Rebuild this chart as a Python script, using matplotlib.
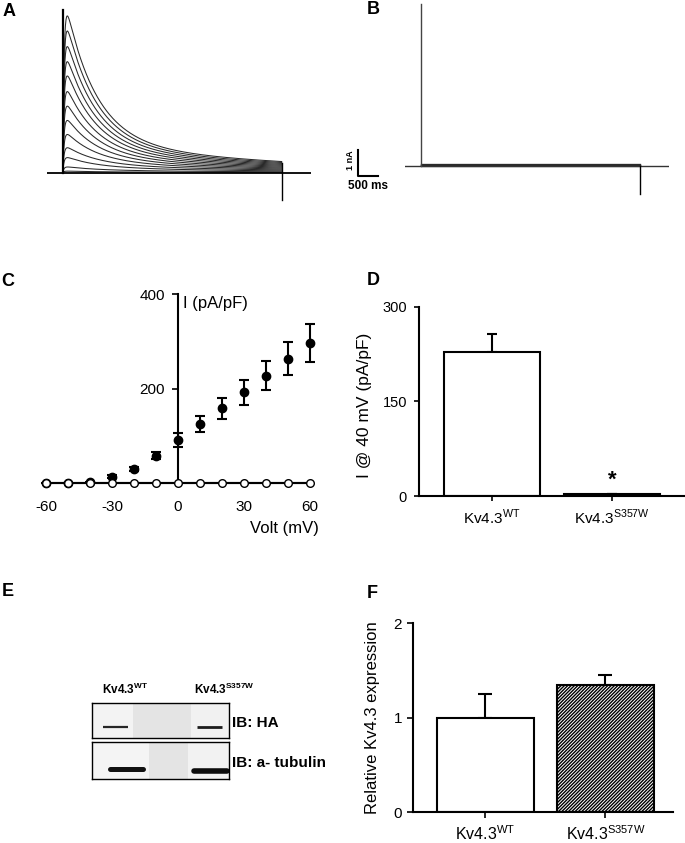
import numpy as np
import matplotlib.pyplot as plt

plt.rcParams['font.family'] = ['Liberation Sans', 'DejaVu Sans']
plt.rcParams['mathtext.fontset'] = 'custom'
plt.rcParams['mathtext.rm'] = 'Liberation Sans'
plt.rcParams['mathtext.bf'] = 'Liberation Sans:bold'
plt.rcParams['hatch.linewidth'] = 1.0
plt.rcParams['hatch.color'] = 'black'
plt.rcParams['axes.linewidth'] = 1.5
plt.rcParams['axes.unicode_minus'] = False

# --- A / B: current traces, one per voltage step -------------------------
step_mv = [-60, -50, -40, -30, -20, -10, 0, 10, 20, 30, 40, 50, 60]
wt_peak_na = [0.06, 0.22, 0.58, 0.96, 1.47, 2.01, 2.56, 3.12, 3.72, 4.27, 4.85, 5.45, 6.03]
wt_end_na = [0.01, 0.03, 0.06, 0.09, 0.12, 0.15, 0.18, 0.21, 0.24, 0.27, 0.30, 0.33, 0.36]
mut_level_na = [0.0, 0.0, 0.01, 0.01, 0.02, 0.02, 0.03, 0.03, 0.04, 0.04, 0.05, 0.05, 0.06]
pulse_ms = 5475
cap_spike_na = [6.26, 6.2]   # capacitive transient at pulse onset (A, B)
tail_dip_na = [-1.05, -1.08]  # tail at pulse end (A, B)
tau_act_ms = 35
tau_fast_ms = 750
tau_slow_ms = 5000

# --- C: I-V relation ----------------------------------------------------
volt_mv = [-60, -50, -40, -30, -20, -10, 0, 10, 20, 30, 40, 50, 60]
wt_density = [0, 0, 2, 13, 30, 58, 91, 124, 158, 192, 227, 263, 297]
wt_density_sem = [0, 0, 1, 3, 5, 8, 14, 17, 22, 26, 31, 35, 40]
mut_density = [0, 0, 0, 0, 0, 0, 0, 0, 0, 0, 0, 0, 0]

# --- D: current at +40 mV -----------------------------------------------
groups = [r'Kv4.3$^{\mathrm{WT}}$', r'Kv4.3$^{\mathrm{S357W}}$']
i40 = [228, 3]
i40_sem = [29, 0]

# --- F: relative expression ---------------------------------------------
rel_expr = [1.0, 1.35]
rel_expr_sem = [0.25, 0.10]

W, H = 685, 843
fig = plt.figure(figsize=(W / 100, H / 100), dpi=100)


def ax_px(l, t, r, b):
    return fig.add_axes([l / W, 1 - b / H, (r - l) / W, (b - t) / H])


def ftext(x, y, s, **kw):
    fig.text(x / W, 1 - y / H, s, **kw)


def trace(peak, end):
    t = np.linspace(0, pulse_ms, 800)
    slow = end * np.exp(pulse_ms / tau_slow_ms)
    i = (1 - np.exp(-t / tau_act_ms)) * ((peak - slow) * np.exp(-t / tau_fast_ms)
                                         + slow * np.exp(-t / tau_slow_ms))
    return t, i * peak / i.max()


# ---- A ----
axA = ax_px(46.7, 6.3, 310.7, 203.9)
axA.set_xlim(-400, 6200)
axA.set_ylim(-1.2, 6.4)
axA.axis('off')
for p, e in zip(wt_peak_na, wt_end_na):
    t, i = trace(p, e)
    axA.plot(t, i, color='#2a2a2a', lw=0.75)
axA.plot([-400, 6200], [0, 0], color='black', lw=1.3)
axA.plot([0, 0], [0, cap_spike_na[0]], color='black', lw=1.6)
axA.plot([pulse_ms, pulse_ms], [max(wt_end_na), tail_dip_na[0]], color='black', lw=1.0)

# ---- B ----
axB = ax_px(405, 1.9, 669, 196.9)
axB.set_xlim(-400, 6200)
axB.set_ylim(-1.2, 6.3)
axB.axis('off')
for lvl in mut_level_na:
    axB.plot([0, pulse_ms], [lvl, lvl], color='#2a2a2a', lw=0.8)
axB.plot([-400, 6200], [0, 0], color='#333333', lw=1.0)
axB.plot([0, 0], [0, cap_spike_na[1]], color='#444444', lw=1.0)
axB.plot([pulse_ms, pulse_ms], [0, tail_dip_na[1]], color='black', lw=1.0)
# scale bar
axB.plot([-1567, -1567, -1067], [0.6, -0.4, -0.4], color='black', lw=1.5, clip_on=False)
axB.text(-1775, 0.22, '1 nA', rotation=90, ha='center', va='center',
         fontsize=6.5, fontweight='bold', clip_on=False)
axB.text(-1325, -0.78, '500 ms', ha='center', va='center',
         fontsize=8.5, fontweight='bold', clip_on=False)

# ---- C ----
axC = ax_px(35, 289.3, 321, 492.5)
axC.set_xlim(-65, 65)
axC.set_ylim(-20, 410)
for s in ('top', 'right'):
    axC.spines[s].set_visible(False)
axC.spines['left'].set_position(('data', 0))
axC.spines['bottom'].set_position(('data', 0))
axC.spines['left'].set_bounds(0, 400)
axC.spines['bottom'].set_bounds(-60, 60)
axC.set_xticks([-60, -30, 0, 30, 60])
axC.set_yticks([200, 400])
axC.tick_params(axis='x', length=3, width=1.2, pad=9, labelsize=11)
axC.tick_params(axis='y', length=4.5, width=1.2, pad=5, labelsize=11)
axC.plot(volt_mv, mut_density, '-o', color='black', mfc='white', mec='black',
         ms=5.5, mew=1, lw=1.5, zorder=5, clip_on=False)
axC.errorbar(volt_mv, wt_density, yerr=wt_density_sem, fmt='o', color='black',
             ms=6, elinewidth=1.5, capsize=3.6, capthick=1.5, zorder=4)
axC.text(2.3, 381, 'I (pA/pF)', ha='left', va='center', fontsize=12)
axC.text(48.6, -97, 'Volt (mV)', ha='center', va='center', fontsize=12, clip_on=False)

# ---- D ----
axD = ax_px(419, 306.7, 684, 496)
axD.set_xlim(-0.608, 1.6)
axD.set_ylim(0, 300)
for s in ('top', 'right'):
    axD.spines[s].set_visible(False)
xd = np.arange(len(groups))
axD.bar(xd, i40, 0.8, color='white', edgecolor='black', lw=1.5, zorder=2)
axD.errorbar(xd, i40, yerr=[[0] * len(i40), i40_sem], fmt='none', ecolor='black',
             elinewidth=1.5, capsize=3.6, capthick=1.5, zorder=1)
axD.text(1, 16, '*', ha='center', va='baseline', fontsize=16, fontweight='bold')
axD.set_yticks([0, 150, 300])
axD.set_xticks(xd)
axD.set_xticklabels(groups)
axD.tick_params(axis='y', length=3.6, width=1.2, pad=5, labelsize=10.5)
axD.tick_params(axis='x', length=3.5, width=1.2, pad=4.8, labelsize=11)
axD.set_ylabel('I @ 40 mV (pA/pF)', fontsize=12.5)
axD.yaxis.label.set_va('center')
axD.yaxis.set_label_coords((365 - 419) / 265, (496 - 405) / 189.3)

# ---- E: western blot ----
ftext(102, 689, r'Kv4.3$^{\mathbf{WT}}$', ha='left', va='center', fontsize=8.5, fontweight='bold')
ftext(194, 689, r'Kv4.3$^{\mathbf{S357W}}$', ha='left', va='center', fontsize=8.5, fontweight='bold')
ftext(232, 723, 'IB: HA', ha='left', va='center', fontsize=11, fontweight='bold')
ftext(232, 763, 'IB: a- tubulin', ha='left', va='center', fontsize=11, fontweight='bold')

axHA = ax_px(91.7, 702.7, 229.3, 738.3)
axTub = ax_px(91.7, 742.3, 229.3, 779)
for ax in (axHA, axTub):
    ax.set_xlim(0, 1)
    ax.set_ylim(0, 1)
    ax.set_xticks([])
    ax.set_yticks([])
    ax.set_facecolor('#e4e4e4')
    for s in ax.spines.values():
        s.set_linewidth(1.0)
axHA.axvspan(0, 0.30, color='#f3f3f3', lw=0)
axHA.axvspan(0.72, 1.0, color='#f1f1f1', lw=0)
axHA.plot([0.082, 0.264], [0.33, 0.33], color='#262626', lw=1.6, solid_capstyle='butt')
axHA.plot([0.765, 0.947], [0.33, 0.33], color='#1c1c1c', lw=2.0, solid_capstyle='butt')
axTub.axvspan(0, 0.42, color='#f4f4f4', lw=0)
axTub.axvspan(0.70, 1.0, color='#f2f2f2', lw=0)
axTub.plot([0.133, 0.373], [0.27, 0.27], color='#111111', lw=3.6, solid_capstyle='round')
axTub.plot([0.743, 0.983], [0.22, 0.22], color='#0d0d0d', lw=4.0, solid_capstyle='round')

# ---- F ----
axF = ax_px(413, 623.3, 673, 812.3)
axF.set_xlim(-0.604, 1.5625)
axF.set_ylim(0, 2)
for s in ('top', 'right'):
    axF.spines[s].set_visible(False)
xf = np.arange(len(groups))
bars = axF.bar(xf, rel_expr, 0.81, color='white', edgecolor='black', lw=1.5, zorder=2)
bars[1].set_hatch('//////////')
axF.errorbar(xf, rel_expr, yerr=[[0] * len(rel_expr), rel_expr_sem], fmt='none',
             ecolor='black', elinewidth=1.5, capsize=4.7, capthick=1.5, zorder=1)
axF.set_yticks([0, 1, 2])
axF.set_xticks(xf)
axF.set_xticklabels(groups)
axF.tick_params(axis='y', length=4.3, width=1.2, pad=3.7, labelsize=11)
axF.tick_params(axis='x', length=4, width=1.2, pad=4.5, labelsize=11.5)
axF.set_ylabel('Relative Kv4.3 expression', fontsize=12)
axF.yaxis.label.set_va('center')
axF.yaxis.set_label_coords((373 - 413) / 260, 0.5)

# panel letters
for letter, (x, y) in zip('ABCDEF', [(9, 12), (373, 9), (8, 282),
                                      (373, 281), (8, 591), (372, 594)]):
    ftext(x, y, letter, ha='center', va='center', fontsize=13, fontweight='bold')

fig.savefig('out.png', dpi=100)
